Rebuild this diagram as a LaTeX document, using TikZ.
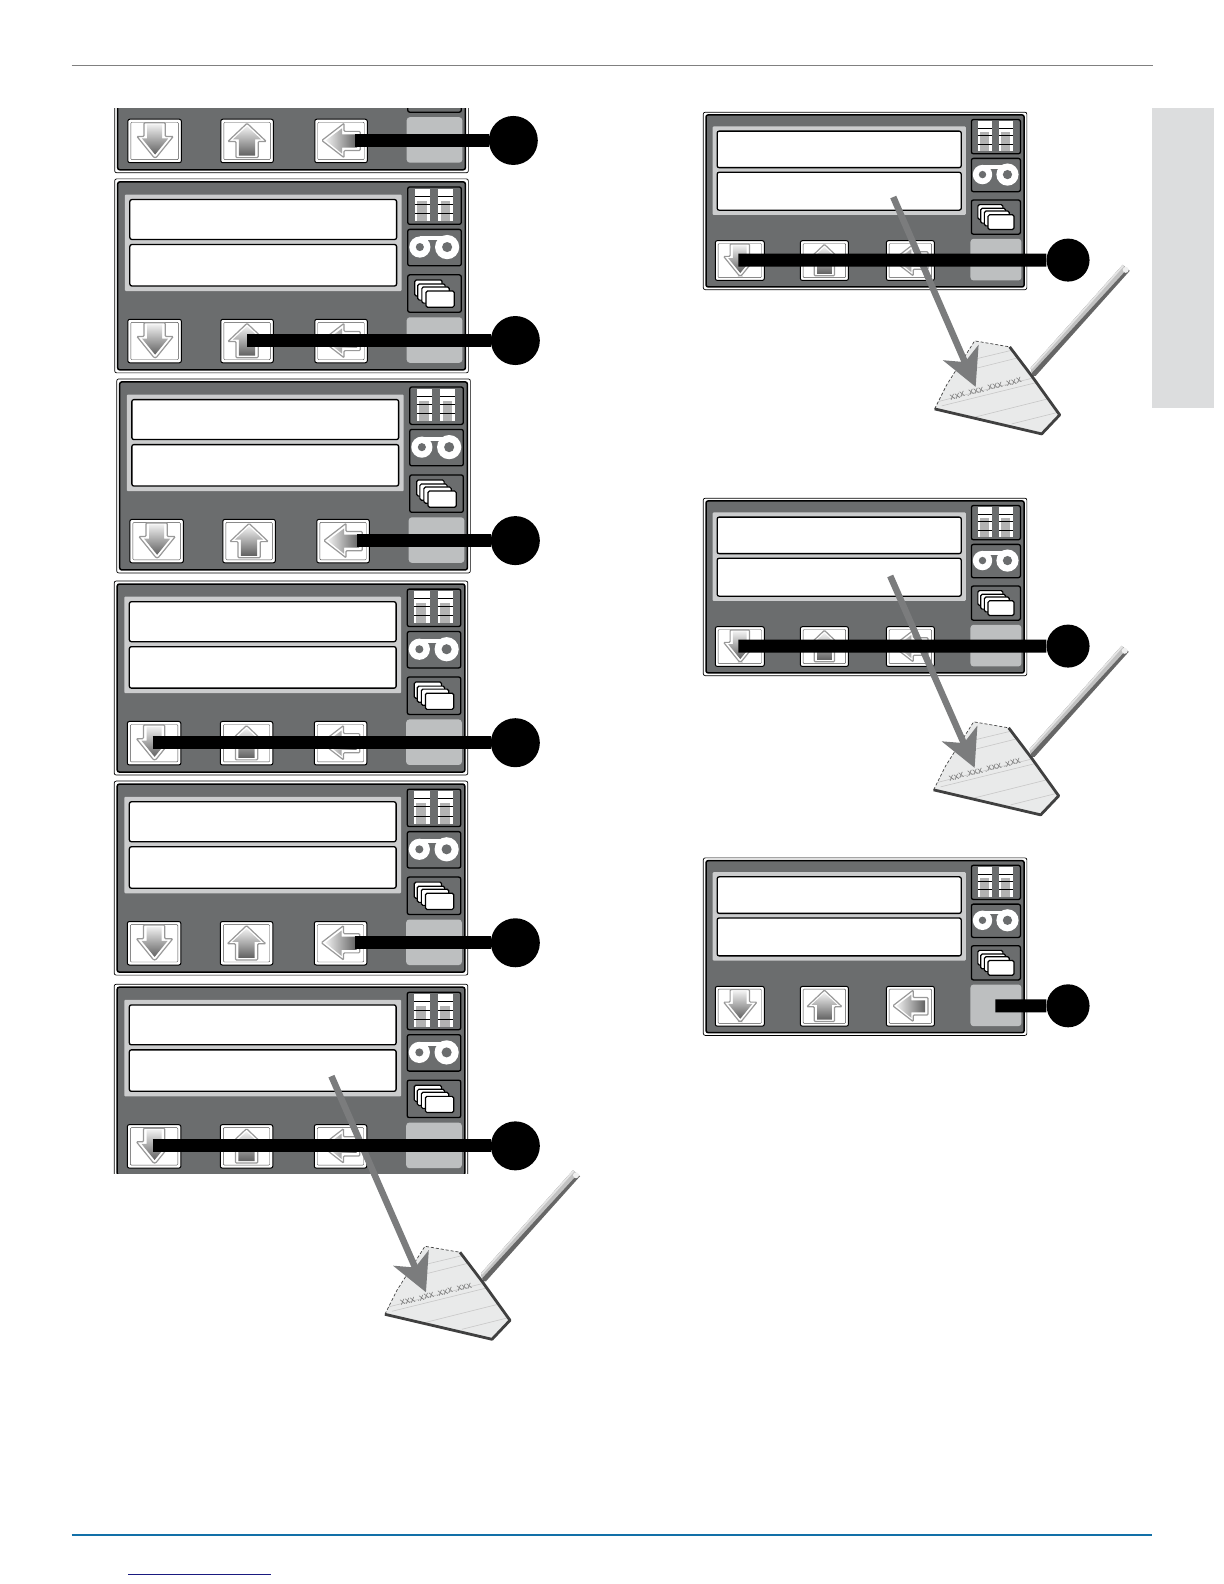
\documentclass[tikz,border=0pt]{standalone}
\usepackage{fontspec}
\setsansfont{Liberation Sans}
\usetikzlibrary{arrows.meta, positioning}

\definecolor{paneldark}{HTML}{6B6D6E}
\definecolor{panelband}{HTML}{CBCCCD}
\definecolor{panelblank}{HTML}{BDBFC0}
\definecolor{tabgrey}{HTML}{DCDDDE}
\definecolor{rulegrey}{HTML}{808080}
\definecolor{ruleblue}{HTML}{1270A8}
\definecolor{rulenavy}{HTML}{1A1A80}
\definecolor{padfill}{HTML}{E9EAEA}
\definecolor{arrowgrey}{HTML}{7B7C7D}

\tikzset{
    display/.style={draw=black, fill=white, line width=1.3pt, rounded corners=2pt},
    softkey/.style={draw=black, fill=paneldark, line width=1.3pt, rounded corners=2pt},
    hardkey/.style={draw=black, fill=white, line width=1pt, rounded corners=2pt},
    keyframe/.style={draw=black!70, line width=.4pt, rounded corners=1pt},
    keyglyph/.style={draw=black!40, fill=white, line width=1.2pt, rounded corners=1pt},
    card/.style={draw=black, fill=white, line width=1.2pt, rounded corners=1.5pt},
    leadline/.style={line width=13pt, black},
    dot/.style={circle, fill=black, inner sep=0pt, minimum size=#1},
    notearrow/.style={line width=6.5pt, arrowgrey, -{Stealth[length=37pt,width=38pt,inset=10pt]}},
    panel/.pic={
        \draw[black, fill=white, line width=.7pt, rounded corners=2pt] (0,0) rectangle (350,192);
        \draw[black, fill=paneldark, line width=1.5pt, rounded corners=2pt] (3,3) rectangle (347,189);
        % displays
        \fill[panelband, rounded corners=1pt] (10,15.5) rectangle (284,111);
        \draw[display] (15,20.5) rectangle (279,60);
        \draw[display] (15,65) rectangle (279,106);
        % grid key
        \draw[softkey] (290,8) rectangle (343,45);
        \fill[white] (297,10) rectangle (312.5,42);
        \fill[white] (320,10) rectangle (335,42);
        \fill[black!30] (299,21.5) rectangle (309,42);
        \fill[black!30] (322.5,21.5) rectangle (332,42);
        \draw[black, line width=.8pt] (297,17.5) -- (312.5,17.5) (320,17.5) -- (335,17.5);
        \draw[black, line width=.8pt] (297,25.5) -- (312.5,25.5) (320,25.5) -- (335,25.5);
        \draw[black, line width=.8pt] (297,34.5) -- (312.5,34.5) (320,34.5) -- (335,34.5);
        % tape key
        \draw[softkey] (290,50) rectangle (343,86);
        \fill[white] (302,67.5) circle (10.5);
        \fill[white] (329,67.5) circle (12);
        \fill[white] (302,57) rectangle (329,61);
        \fill[paneldark] (302,67.5) circle (4);
        \fill[paneldark] (329,67.5) circle (5);
        % stack key
        \draw[softkey] (290,95) rectangle (343,132);
        \draw[card] (297,100) rectangle (324,116);
        \draw[card] (300,104) rectangle (327,120);
        \draw[card] (304,107) rectangle (331,123);
        \draw[card] (308,111) rectangle (336,127);
        % arrow keys
        \draw[hardkey] (13,139) rectangle (66,182);
        \draw[keyframe] (16,142) rectangle (63,179);
        \draw[keyglyph] (29,142.5) -- (50,142.5) -- (50,156) -- (58,156) -- (41,177) -- (39,177) -- (22,156) -- (29,156) -- cycle;
        \shade[top color=black!6, bottom color=black!62] (32,144) -- (47,144) -- (47,158) -- (53,158) -- (40,174) -- (27,158) -- (32,158) -- cycle;
        \draw[hardkey] (105,139) rectangle (157,182);
        \draw[keyframe] (108,142) rectangle (154,179);
        \draw[keyglyph] (131,143) -- (150,161) -- (142,161) -- (142,177) -- (120,177) -- (120,161) -- (112,161) -- cycle;
        \shade[top color=black!6, bottom color=black!62] (131,146) -- (145,159) -- (139,159) -- (139,175) -- (123,175) -- (123,159) -- (117,159) -- cycle;
        \draw[hardkey] (198,139) rectangle (250,182);
        \draw[keyframe] (201,142) rectangle (247,179);
        \draw[keyglyph] (205,160) -- (227,143) -- (227,151) -- (243,151) -- (243,170) -- (227,170) -- (227,177) -- cycle;
        \shade[left color=black!6, right color=black!62] (209,160) -- (225,148) -- (225,154) -- (240,154) -- (240,167) -- (225,167) -- (225,173) -- cycle;
        % blank key
        \fill[panelblank, rounded corners=3pt] (289,137) rectangle (344,182);
        \coordinate (-downkey) at (38,160);
        \coordinate (-upkey) at (131,160);
        \coordinate (-backkey) at (238,160);
        \coordinate (-blankkey) at (316,160);
    },
    notepad/.pic={
        % pencil
        \fill[black!60] (1,0) -- (-1,-8) -- (91,-111) -- (98,-105) -- (4,0) -- cycle;
        \fill[black!24] (0,-3) -- (-1,-8) -- (91,-111) -- (95.5,-107) -- cycle;
        \fill[black!10] (-1,-8) -- (91,-111) -- (92.5,-110) -- (0,-6.5) -- cycle;
        \fill[black!6] (94,-106) circle (3);
        % sheet
        \fill[padfill] (-57,-35) -- (-22,-29) -- (0,0) -- (28,39) -- (10,58) -- (-97,33) -- (-85,9) -- cycle;
        \begin{scope}
            \clip (-57,-35) -- (-22,-29) -- (0,0) -- (28,39) -- (10,58) -- (-97,33) -- (-85,9) -- cycle;
            \draw[black!22, line width=.6pt] (-60,-16) -- (-10,-28);
            \draw[black!22, line width=.6pt] (-70,-4) -- (10,-24);
            \draw[black!22, line width=.6pt] (-95,26) -- (30,-5);
            \draw[black!22, line width=.6pt] (-90,30) -- (40,-2);
            \draw[black!22, line width=.6pt] (-60,42) -- (40,17);
            \draw[black!22, line width=.6pt] (-20,48) -- (40,33);
        \end{scope}
        \draw[black!75, line width=.7pt, densely dashed] (-97,33) -- (-85,9) -- (-57,-35) -- (-22,-29);
        \draw[black!75, line width=2.8pt, line join=round] (-22,-29) -- (0,0) -- (28,39) -- (10,58) -- (-97,33);
        \node[rotate=14, text=black!60, font=\sffamily\fontsize{7.6}{8}\selectfont, inner sep=0pt] (-text) at (-46,13) {XXX .XXX .XXX .XXX};
        \coordinate (-mark) at (-56,11);
    },
}

\begin{document}
\begin{tikzpicture}[x=1.0105pt, y=-1.0105pt]
    \useasboundingbox (0,0) rectangle (1211.3,1567.6);
    % page furniture
    \draw[rulegrey, line width=1.3pt] (71,65) -- (1141,65);
    \draw[ruleblue, line width=2pt] (71,1519) -- (1140,1519);
    \draw[rulenavy, line width=1pt] (127,1558) -- (268,1558);
    \fill[tabgrey] (1140,107) rectangle (1201,404);
    % left column
    \begin{scope}
        \clip (100,107) rectangle (480,175);
        \pic (panelA) at (113.5,-21) {panel};
    \end{scope}
    \pic (panelB) at (113.5,177) {panel};
    \pic (panelC) at (115.5,375) {panel};
    \pic (panelD) at (113,575) {panel};
    \pic (panelE) at (113,773) {panel};
    \begin{scope}
        \clip (100,970) rectangle (480,1161);
        \pic (panelF) at (113,974) {panel};
    \end{scope}
    % right column
    \pic[scale=.915] (panelG) at (696,111) {panel};
    \pic[scale=.915] (panelH) at (696,493) {panel};
    \pic[scale=.915] (panelI) at (696,849) {panel};
    % notes
    \pic[scale=.99] (padF) at (477,1268) {notepad};
    \pic[scale=.99] (padG) at (1021,372) {notepad};
    \pic[scale=.99] (padH) at (1020,749) {notepad};
    \coordinate (startF) at (328,1065);
    \coordinate (startG) at (884,195);
    \coordinate (startH) at (881,570);
    \draw[notearrow] (startF) -- (padF-mark);
    \draw[notearrow] (startG) -- (padG-mark);
    \draw[notearrow] (startH) -- (padH-mark);
    % callouts
    \node[dot=49pt] (dotA) at (508,139) {};
    \node[dot=49pt] (dotB) at (510,337) {};
    \node[dot=49pt] (dotC) at (510,535) {};
    \node[dot=49pt] (dotD) at (510,735) {};
    \node[dot=49pt] (dotE) at (510,933) {};
    \node[dot=49pt] (dotF) at (510,1134) {};
    \node[dot=43pt] (dotG) at (1057,257.4) {};
    \node[dot=43pt] (dotH) at (1057,639.4) {};
    \node[dot=43pt] (dotI) at (1057,995.4) {};
    \draw[leadline] (panelA-backkey) -- (dotA);
    \draw[leadline] (panelB-upkey) -- (dotB);
    \draw[leadline] (panelC-backkey) -- (dotC);
    \draw[leadline] (panelD-downkey) -- (dotD);
    \draw[leadline] (panelE-backkey) -- (dotE);
    \draw[leadline] (panelF-downkey) -- (dotF);
    \draw[leadline] (panelG-downkey) -- (dotG);
    \draw[leadline] (panelH-downkey) -- (dotH);
    \draw[leadline] (panelI-blankkey) -- (dotI);
\end{tikzpicture}
\end{document}
